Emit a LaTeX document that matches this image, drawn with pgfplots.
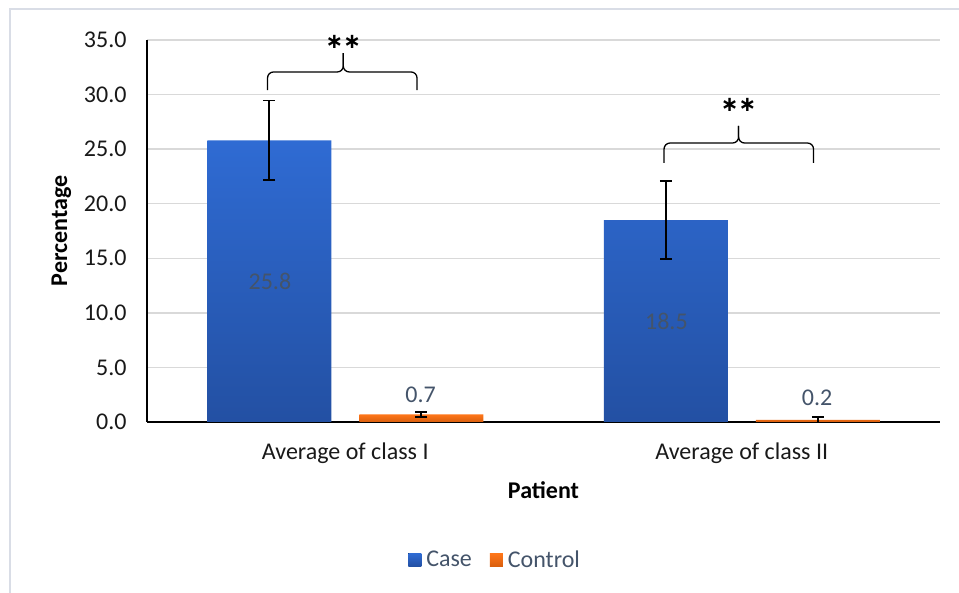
\documentclass[border=0pt]{standalone}
\usepackage{pgfplots}
\pgfplotsset{compat=1.18}
\usepackage{fontspec}
\setmainfont{Carlito}
\newfontfamily\dejavu{DejaVu Sans}
\definecolor{caseTop}{HTML}{2F6BD3}
\definecolor{caseBot}{HTML}{2350A3}
\definecolor{ctrlTop}{HTML}{FF7619}
\definecolor{ctrlBot}{HTML}{D95F0E}
\definecolor{lbl}{HTML}{44546A}
\definecolor{gridc}{HTML}{D9D9D9}
\definecolor{framec}{HTML}{D9DDE6}
\begin{document}
\begin{tikzpicture}[x=1bp,y=1bp]
\useasboundingbox (0,0) rectangle (959,593);
\draw[framec, line width=1.5bp] (10,0) -- (10,584) -- (959,584);
\begin{axis}[
  at={(147bp,171bp)}, anchor=south west,
  scale only axis, width=793bp, height=382bp,
  ymin=0, ymax=35, xmin=-0.5, xmax=1.5,
  clip=false,
  ytick={0,5,...,35},
  xtick={0,1},
  xticklabels={Average of class I, Average of class II},
  axis lines*=left,
  axis line style={black, line width=2bp},
  major tick length=0pt,
  ymajorgrids, grid style={gridc, line width=1.5bp},
  font=\fontsize{24bp}{28bp}\selectfont,
  /pgf/number format/assume math mode=true,
  yticklabel style={/pgf/number format/fixed, /pgf/number format/fixed zerofill, /pgf/number format/precision=1},
  yticklabel style={xshift=-17bp, text=black!90},
  xticklabel style={yshift=-17bp, text=black!90},
  xlabel={\textbf{Patient}},
  xlabel style={at={(axis description cs:0.5,-0.178)}, anchor=center},
  ylabel={\textbf{Percentage}},
  ylabel style={at={(axis description cs:-0.108,0.5)}, anchor=center},
  ybar, bar width=124bp,
  legend style={at={(0.439,-0.361)}, anchor=center, draw=none, fill=none,
    legend columns=2, text=lbl, font=\fontsize{24bp}{28bp}\selectfont,
    /tikz/every even column/.append style={column sep=16bp}},
  legend image code/.code={\fill[#1] (0bp,-6.5bp) rectangle (13bp,6.5bp); \path (16bp,0bp);},
  error bars/y dir=both, error bars/y explicit,
  error bars/error bar style={draw=black, line width=1.8bp},
  error bars/error mark options={draw=black, line width=1.8bp, mark size=6bp, rotate=90},
]
\addplot[draw=none, top color=caseTop, bottom color=caseBot, bar shift=-76bp]
  coordinates {(0,25.8) +- (0,3.65) (1,18.5) +- (0,3.6)};
\addplot[draw=none, top color=ctrlTop, bottom color=ctrlBot, bar shift=76bp]
  coordinates {(0,0.7) +- (0,0.25) (1,0.2) +- (0,0.25)};
\legend{Case, Control}
% data labels
\node[text=lbl, anchor=center] at (axis cs:-0.19,12.9) {25.8};
\node[text=lbl, anchor=center] at (axis cs:0.81,9.25) {18.5};
\node[text=lbl, anchor=center] at (axis cs:0.19,2.5) {0.7};
\node[text=lbl, anchor=center] at (axis cs:1.19,2.2) {0.2};
% brackets
\draw[black, line width=1.3bp, rounded corners=6bp] (axis cs:-0.196,30.4) -- (axis cs:-0.196,32.07) -- (axis cs:-0.005,32.07) -- (axis cs:-0.005,33.8);
\draw[black, line width=1.3bp, rounded corners=6bp] (axis cs:0.181,30.4) -- (axis cs:0.181,32.07) -- (axis cs:-0.005,32.07) -- (axis cs:-0.005,33.8);
\node[anchor=center, font=\dejavu\bfseries\fontsize{21bp}{24bp}\selectfont] at (axis cs:-0.005,34.8) {∗∗};
\draw[black, line width=1.3bp, rounded corners=6bp] (axis cs:0.804,23.73) -- (axis cs:0.804,25.56) -- (axis cs:0.992,25.56) -- (axis cs:0.992,27.12);
\draw[black, line width=1.3bp, rounded corners=6bp] (axis cs:1.181,23.73) -- (axis cs:1.181,25.56) -- (axis cs:0.992,25.56) -- (axis cs:0.992,27.12);
\node[anchor=center, font=\dejavu\bfseries\fontsize{21bp}{24bp}\selectfont] at (axis cs:0.992,29.05) {∗∗};
\end{axis}
\end{tikzpicture}
\end{document}
